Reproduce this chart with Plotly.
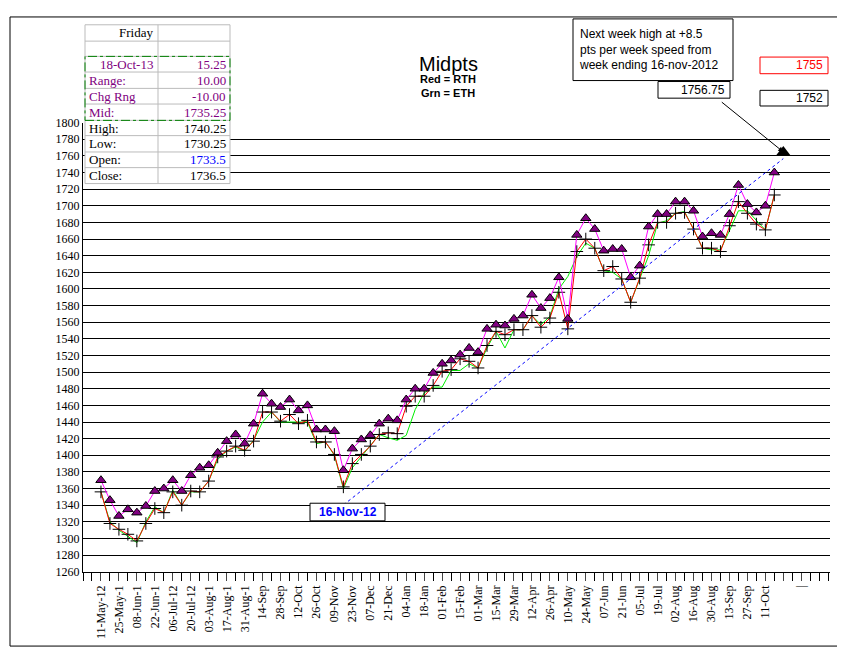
import plotly.graph_objects as go

W, H = 845, 648

# weekly data, 11-May-12 .. 18-Oct-13
high = [1370, 1346, 1327, 1335, 1331, 1339, 1357, 1360, 1370, 1357,
        1376, 1385, 1388, 1403, 1417, 1425, 1414, 1438, 1474, 1462,
        1458, 1467, 1454, 1460, 1431, 1431, 1429, 1382, 1408, 1419,
        1424, 1438, 1444, 1442, 1467, 1480, 1480, 1499, 1510, 1514,
        1521, 1529, 1524, 1552, 1557, 1556, 1564, 1568, 1593, 1577,
        1589, 1614, 1564, 1665, 1685, 1672, 1646, 1648, 1648, 1614,
        1628, 1675, 1690, 1690, 1705, 1705, 1694, 1663, 1667, 1665,
        1690, 1725, 1702, 1692, 1700, 1740]
rth = [1356, 1318, 1311, 1305, 1297, 1318, 1336, 1331, 1356, 1340,
       1357, 1356, 1369, 1398, 1405, 1411, 1406, 1417, 1452, 1452,
       1441, 1449, 1438, 1442, 1416, 1416, 1401, 1362, 1390, 1401,
       1411, 1425, 1427, 1426, 1459, 1471, 1471, 1484, 1501, 1503,
       1516, 1513, 1505, 1532, 1549, 1545, 1551, 1551, 1568, 1554,
       1565, 1596, 1552, 1645, 1660, 1649, 1622, 1627, 1612, 1584,
       1613, 1653, 1680, 1680, 1691, 1692, 1672, 1649, 1649, 1645,
       1676, 1705, 1691, 1678, 1671, 1713]
eth = [1356, 1320, 1310, 1303, 1295, 1320, 1338, 1331, 1358, 1340,
       1356, 1356, 1369, 1395, 1405, 1410, 1405, 1418, 1440, 1452,
       1440, 1440, 1440, 1440, 1414, 1416, 1400, 1360, 1385, 1398,
       1412, 1425, 1421, 1418, 1424, 1455, 1475, 1482, 1482, 1502,
       1502, 1510, 1505, 1529, 1549, 1529, 1551, 1551, 1568, 1557,
       1567, 1600, 1615, 1639, 1655, 1649, 1622, 1620, 1612, 1584,
       1612, 1640, 1679, 1682, 1691, 1693, 1672, 1649, 1647, 1647,
       1670, 1694, 1694, 1682, 1671, 1713]
tick_labels = ["11-May-12", "25-May-1", "08-Jun-1", "22-Jun-1", "06-Jul-12", "20-Jul-12",
               "03-Aug-1", "17-Aug-1", "31-Aug-1", "14-Sep", "28-Sep", "12-Oct", "26-Oct",
               "09-Nov", "23-Nov", "07-Dec", "21-Dec", "04-Jan", "18-Jan", "01-Feb", "15-Feb",
               "01-Mar", "15-Mar", "29-Mar", "12-Apr", "26-Apr", "10-May", "24-May", "07-Jun",
               "21-Jun", "05-Jul", "19-Jul", "02-Aug", "16-Aug", "30-Aug", "13-Sep", "27-Sep",
               "11-Oct", "", "|"]
speed_start = (27, 1340.25)   # week ending 16-Nov-12
speed_end = (76, 1756.75)     # next week projection

table_rows = [("Friday", ""), ("", ""), ("18-Oct-13", "15.25"), ("Range:", "10.00"),
              ("Chg Rng", "-10.00"), ("Mid:", "1735.25"), ("High:", "1740.25"),
              ("Low:", "1730.25"), ("Open:", "1733.5"), ("Close:", "1736.5")]
row_colors = ["black", "black", "purple", "purple", "purple", "purple",
              "black", "black", "black", "black"]

def px(x):
    return x / W

def py(y):
    return 1 - y / H

wk = list(range(len(high)))
fig = go.Figure()
fig.add_trace(go.Scatter(x=wk, y=eth, mode="lines", line=dict(color="#00ee00", width=1)))
fig.add_trace(go.Scatter(x=wk, y=rth, mode="lines+markers", line=dict(color="red", width=1),
                         marker=dict(symbol="cross-thin", size=9, line=dict(color="black", width=1))))
fig.add_trace(go.Scatter(x=wk, y=high, mode="lines+markers", line=dict(color="magenta", width=1),
                         marker=dict(symbol="triangle-up", size=9, color="#800080",
                                     line=dict(color="black", width=1))))
fig.add_trace(go.Scatter(x=[speed_start[0], speed_end[0]], y=[speed_start[1], speed_end[1]],
                         mode="lines", line=dict(color="blue", width=1, dash="dot")))
fig.add_trace(go.Scatter(x=[speed_end[0]], y=[speed_end[1] + 8], mode="markers",
                         marker=dict(symbol="triangle-up", size=12, color="black")))

serif = "Liberation Serif"
fig.update_layout(
    width=W, height=H, margin=dict(l=0, r=0, t=0, b=0), showlegend=False,
    paper_bgcolor="white", plot_bgcolor="white",
    font=dict(family=serif, size=12, color="black"),
    xaxis=dict(domain=[px(75), px(822)], range=[-2, 81.2], showgrid=False, zeroline=False,
               tickmode="array", tickvals=list(range(0, 2 * len(tick_labels), 2)),
               ticktext=tick_labels, tickangle=-90, ticks="outside", ticklen=8,
               tickfont=dict(family=serif, size=12), showline=True, linecolor="black",
               minor=dict(tick0=0, dtick=1, ticks="outside", ticklen=8, tickcolor="black")),
    yaxis=dict(domain=[py(569), py(110)], range=[1260, 1800], dtick=20, showgrid=True,
               gridcolor="black", gridwidth=1, zeroline=False, showline=True, linecolor="black",
               tickfont=dict(family=serif, size=12)),
)

shapes = [dict(type="rect", xref="paper", yref="paper", x0=px(2), x1=px(843), y0=py(645), y1=py(2),
               line=dict(color="black", width=1), layer="below")]
anns = []
# table at top left
row_y = [10, 26.7, 42.3, 58.3, 75, 91, 107.7, 123.3, 140, 156, 172.3]
shapes.append(dict(type="rect", xref="paper", yref="paper", x0=px(77), x1=px(222),
                   y0=py(172.3), y1=py(10), fillcolor="white", line=dict(color="#bbbbbb", width=1)))
for k, (lab, val) in enumerate(table_rows):
    yc = (row_y[k] + row_y[k + 1]) / 2
    if k > 0:
        shapes.append(dict(type="line", xref="paper", yref="paper", x0=px(77), x1=px(222),
                           y0=py(row_y[k]), y1=py(row_y[k]), line=dict(color="#bbbbbb", width=1)))
    lab_align = "right" if k in (0, 2) else "left"
    anns.append(dict(xref="paper", yref="paper", x=px(147 if lab_align == "right" else 79), y=py(yc),
                     text=lab, showarrow=False, xanchor=lab_align, yanchor="middle",
                     font=dict(family=serif, size=13, color=row_colors[k])))
    vcol = "blue" if lab == "Open:" else row_colors[k]
    anns.append(dict(xref="paper", yref="paper", x=px(220), y=py(yc), text=val, showarrow=False,
                     xanchor="right", yanchor="middle", font=dict(family=serif, size=13, color=vcol)))
shapes.append(dict(type="line", xref="paper", yref="paper", x0=px(150), x1=px(150),
                   y0=py(172.3), y1=py(10), line=dict(color="#bbbbbb", width=1)))
shapes.append(dict(type="rect", xref="paper", yref="paper", x0=px(77), x1=px(222),
                   y0=py(107.7), y1=py(42.3), line=dict(color="green", width=1, dash="dashdot")))

# title
anns.append(dict(xref="paper", yref="paper", x=px(440), y=py(37), text="Midpts", showarrow=False,
                 font=dict(family="Liberation Sans", size=20)))
anns.append(dict(xref="paper", yref="paper", x=px(440), y=py(57), text="<b>Red = RTH</b>",
                 showarrow=False, font=dict(family="Liberation Sans", size=11)))
anns.append(dict(xref="paper", yref="paper", x=px(440), y=py(72), text="<b>Grn = ETH</b>",
                 showarrow=False, font=dict(family="Liberation Sans", size=11)))

# boxed notes
def box(x0, y0, x1, y1, text, color="black", tcolor="black", align="center", size=12, bold=False):
    shapes.append(dict(type="rect", xref="paper", yref="paper", x0=px(x0), x1=px(x1),
                       y0=py(y1), y1=py(y0), fillcolor="white", line=dict(color=color, width=1)))
    t = "<b>%s</b>" % text if bold else text
    xa = {"center": (x0 + x1) / 2, "right": x1 - 3, "left": x0 + 4}[align]
    anns.append(dict(xref="paper", yref="paper", x=px(xa), y=py((y0 + y1) / 2), text=t,
                     showarrow=False, xanchor=align, yanchor="middle", align="left",
                     font=dict(family="Liberation Sans", size=size, color=tcolor)))

box(565, 4, 725, 67, "Next week high at +8.5<br>pts per week speed from<br>week ending 16-nov-2012",
    align="left", size=12)
box(650, 68, 722, 85, "1756.75", align="right")
box(752, 43, 820, 60, "1755", color="red", tcolor="red", align="right")
box(752, 77, 820, 93, "1752", align="right")
box(302, 499, 377, 517, "16-Nov-12", tcolor="blue", bold=True, size=12)

# arrow from the 1756.75 box to the projected point
anns.append(dict(xref="x", yref="y", x=speed_end[0], y=speed_end[1] + 8, ax=-63, ay=-51,
                 axref="pixel", ayref="pixel", text="", showarrow=True, arrowhead=2,
                 arrowsize=1, arrowwidth=1, arrowcolor="black"))

fig.update_layout(shapes=shapes, annotations=anns)
fig.write_html("out.html")
